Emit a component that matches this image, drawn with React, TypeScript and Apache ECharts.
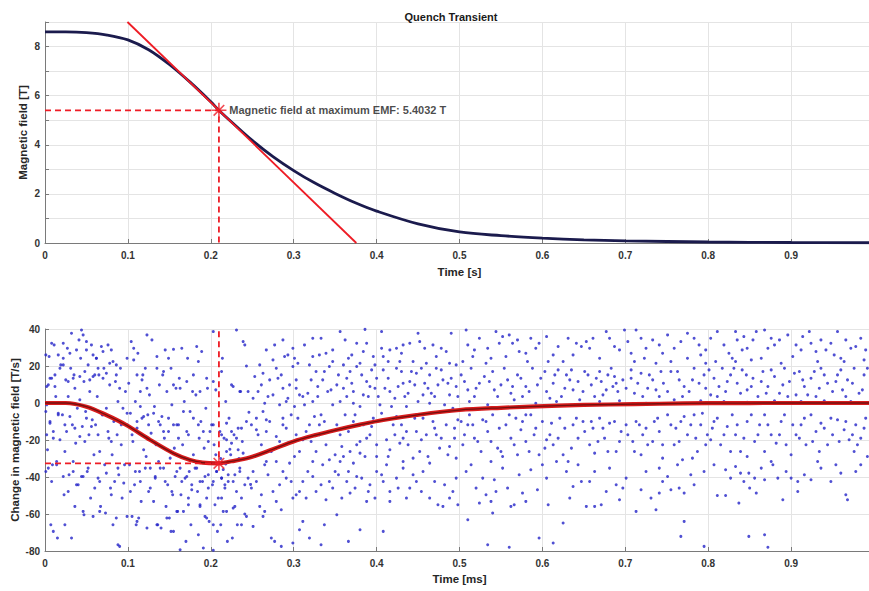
import React, { useEffect, useRef } from "react";
import * as echarts from "echarts";

// ---------- data ----------
const topTime = [0, 0.025, 0.05, 0.075, 0.1, 0.125, 0.15, 0.175, 0.2, 0.21, 0.225, 0.25, 0.275, 0.3, 0.325, 0.35, 0.375, 0.4, 0.45, 0.5, 0.55, 0.6, 0.65, 0.7, 0.8, 0.9, 1.0];
const topField = [8.6, 8.6, 8.57, 8.47, 8.27, 7.87, 7.27, 6.55, 5.75, 5.4, 4.93, 4.18, 3.52, 2.95, 2.45, 2.02, 1.63, 1.3, 0.78, 0.45, 0.3, 0.2, 0.13, 0.09, 0.04, 0.02, 0.01];

const rateTime = [0, 0.025, 0.05, 0.074, 0.098, 0.127, 0.155, 0.175, 0.19, 0.208, 0.225, 0.247, 0.275, 0.299, 0.325, 0.351, 0.38, 0.408, 0.448, 0.5, 0.55, 0.62, 0.68, 0.741, 0.8, 0.9, 1.0];
const rateValue = [0, 0, -2, -6.5, -11.9, -20, -27.2, -30.8, -32.2, -32.6, -31.5, -29.5, -25, -20.9, -17.5, -14.6, -11.7, -9.2, -6.5, -3.8, -2.6, -1.4, -0.8, -0.4, -0.1, 0, 0];

const tMaxEmf = 0.2098;
const fieldAtMaxEmf = 5.4032;
const maxEmf = -32.6;

const topYTicks = [0, 2, 4, 6, 8];
const bottomYRange = [-80, 40];

const noiseA = [
  [0.004,9.8],[0.012,8.9],[0.008,13.4],[0.002,-1],[0.016,-6.4],[0.006,-10.9],[0.01,-19],[0.018,-19.9],[0.003,-25.3],[0.014,-31.6],[0.009,-33.4],[0.001,-37],[0.007,-65.8],[0.015,-73],[0.011,31.4],[0.005,25.1],[0.019,20.6],[0.013,3.5],[0.002,-17.2],
  [0.022,24.2],[0.031,18.8],[0.025,12.5],[0.036,8],[0.028,3.5],[0.039,-2.8],[0.021,-6.4],[0.033,-11.8],[0.026,-15.4],[0.037,-21.7],[0.024,-26.2],[0.034,-31.6],[0.029,-38.8],[0.038,-44.2],[0.023,-49.6],[0.032,-73],[0.027,29.6],[0.035,15.2],
  [0.044,39.5],[0.046,36.8],[0.041,34.1],[0.05,33.2],[0.056,31.4],[0.043,24.2],[0.052,20.6],[0.058,14.3],[0.047,11.6],[0.054,6.2],[0.042,1.7],[0.049,-4.6],[0.057,-9.1],[0.045,-12.7],[0.053,-17.2],[0.048,-20.8],[0.059,-28],[0.051,-37],[0.044,-39.7],[0.055,-51.4],[0.047,-60.4],
  [0.068,30.5],[0.076,31.4],[0.08,28.7],[0.062,24.2],[0.071,18.8],[0.065,15.2],[0.078,9.8],[0.063,3.5],[0.074,-2.8],[0.069,-6.4],[0.061,-11.8],[0.077,-19],[0.066,-26.2],[0.072,-33.4],[0.064,-40.6],[0.079,-46],[0.067,-55.9],[0.073,-59.5],[0.07,27.8],
  [0.082,22.4],[0.091,18.8],[0.085,11.6],[0.097,6.2],[0.088,0.8],[0.094,-2.8],[0.083,-10],[0.099,-11.8],[0.087,-17.2],[0.092,-22.6],[0.081,-28],[0.096,-33.4],[0.089,-38.8],[0.084,-42.4],[0.093,-51.4],[0.086,-62.2],[0.09,-77.5],
  [0.104,33.2],[0.112,26.9],[0.107,23.3],[0.118,15.2],[0.101,10.7],[0.115,6.2],[0.109,0.8],[0.103,-5.5],[0.117,-8.2],[0.111,-13.6],[0.106,-20.8],[0.119,-25.3],[0.102,-33.4],[0.114,-37],[0.108,-44.2],[0.116,-53.2],[0.105,-61.3],[0.113,-62.2],[0.11,-65.8],
  [0.123,36.8],[0.129,34.1],[0.135,25.1],[0.121,18.8],[0.138,9.8],[0.126,4.4],[0.132,-1.9],[0.124,-6.4],[0.139,-11.8],[0.128,-16.3],[0.134,-22.6],[0.122,-28.9],[0.137,-31.6],[0.127,-35.2],[0.133,-40.6],[0.125,-47.8],[0.131,-53.2],[0.136,-65.8],[0.14,-67.6],
  [0.145,28.7],[0.155,29],[0.152,18.8],[0.142,15.2],[0.158,8],[0.147,6.2],[0.153,-1],[0.141,-7.3],[0.159,-11.8],[0.149,-15.4],[0.144,-19],[0.156,-24.4],[0.151,-29.8],[0.143,-35.2],[0.157,-39.7],[0.148,-44.2],[0.154,-49.6],[0.146,-55.9],[0.16,-58.6],[0.15,-62.2],[0.152,-69.4],
  [0.165,29.6],[0.172,24.2],[0.162,13.4],[0.178,6.2],[0.168,0.8],[0.175,-4.6],[0.161,-11.8],[0.171,-15.4],[0.166,-22.6],[0.179,-28],[0.163,-35.2],[0.174,-37],[0.169,-40.6],[0.177,-44.2],[0.164,-49.6],[0.173,-55],[0.167,-58.6],[0.176,-65.8],[0.17,-74.8],[0.163,-79.3],
  [0.183,30.5],[0.189,27.8],[0.185,22.4],[0.196,8],[0.182,4.4],[0.194,-2.8],[0.188,-10],[0.199,-15.4],[0.186,-19],[0.192,-24.4],[0.181,-35.2],[0.197,-38.8],[0.19,-42.4],[0.184,-47.8],[0.195,-51.4],[0.187,-55],[0.193,-61.3],[0.198,-64],[0.185,-71.2],[0.191,-78.4],
  [0.203,38.6],[0.214,24.2],[0.206,7.1],[0.218,0.8],[0.201,-11.8],[0.211,-15.4],[0.216,-19],[0.204,-22.6],[0.219,-26.2],[0.207,-37],[0.213,-40.6],[0.202,-44.2],[0.217,-46],[0.209,-51.4],[0.205,-55],[0.215,-58.6],[0.212,-65.8],[0.208,-69.4],[0.22,-74.8],[0.203,-79.6],[0.212,-30],[0.218,-33],[0.206,-28],[0.215,-36],
  [0.231,39.5],[0.239,33.2],[0.225,9.8],[0.236,6.2],[0.222,-8.2],[0.233,-13.6],[0.228,-17.2],[0.238,-20.8],[0.224,-28],[0.235,-35.2],[0.229,-38.8],[0.221,-42.4],[0.237,-51.4],[0.227,-56.8],[0.232,-65.8],[0.226,-73],[0.234,-30],[0.223,-25],
  [0.243,20],[0.246,-5],[0.248,-44],[0.241,-60],
];

const noiseA2 = [
  [0.002,8.9],[0.006,13.4],[0.012,15.2],[0.018,18.8],[0.022,20.6],[0.028,11.6],[0.034,13.4],[0.042,14.3],[0.048,17],[0.054,12.5],[0.06,15.2],[0.064,18.8],[0.07,13.4],[0.074,16.1],[0.078,21.5],[0.086,20.6],[0.09,8],[0.062,24.2],[0.058,26],[0.05,28.7],[0.038,28.7],[0.03,26.9],[0.022,32.3],[0.016,26],[0.001,26],[0.008,32.3],[0.032,37.7],[0.086,15.2],[0.099,24.2],[0.107,29.6],[0.111,15.2],[0.117,12.5],[0.123,8],[0.135,18.8],[0.143,17],[0.149,24.2],[0.155,9.8],[0.163,8],[0.171,11.6],[0.179,15.2],[0.187,6.2],[0.195,13.4],[0.203,11.6],[0.213,17],[0.227,8.9],[0.235,6.2],[0.241,31.4],[0.245,6.2],
  [0.001,-4.6],[0.006,-10],[0.01,-15.4],[0.016,-5.5],[0.024,-11.8],[0.03,-7.3],[0.036,-13.6],[0.042,-18.1],[0.05,-8.2],[0.056,-12.7],[0.064,-17.2],[0.07,-6.4],[0.076,-15.4],[0.08,-20.8],[0.084,-9.1],[0.092,-11.8],[0.099,-5.5],[0.105,-17.2],[0.111,-10],[0.115,-1.9],[0.119,-7.3],[0.125,-11.8],[0.131,-5.5],[0.137,-10],[0.143,-15.4],[0.149,-8.2],[0.155,-11.8],[0.161,-19],[0.167,-4.6],[0.173,-17.2],[0.179,-8.2],[0.185,-11.8],[0.191,-15.4],[0.197,-20.8],[0.203,-11.8],[0.213,-17.2],[0.219,-10.9],[0.225,-15.4],[0.231,-19],[0.237,-13.6],[0.243,-10],[0.219,-19.9],[0.225,-21.7],[0.233,-25.3],[0.239,-27.1],
  [0.004,-35.2],[0.008,-42.4],[0.014,-33.4],[0.022,-39.7],[0.028,-47.8],[0.034,-37],[0.04,-44.2],[0.046,-39.7],[0.052,-35.2],[0.06,-46],[0.066,-42.4],[0.074,-37.9],[0.08,-49.6],[0.088,-35.2],[0.095,-43.3],[0.103,-47.8],[0.109,-37],[0.115,-42.4],[0.121,-35.2],[0.127,-46],[0.133,-39.7],[0.139,-35.2],[0.145,-42.4],[0.153,-47.8],[0.159,-37],[0.165,-42.4],[0.171,-39.7],[0.177,-46.9],[0.183,-35.2],[0.187,-42.4],[0.193,-39.7],[0.197,-46],[0.203,-42.4],[0.207,-37],[0.213,-40.6],[0.217,-44.2],[0.221,-38.8],[0.227,-42.4],[0.231,-47.8],[0.235,-37],[0.241,-44.2],[0.245,-40.6],
  [0.173,-51.4],[0.187,-55.9],[0.195,-62.2],[0.203,-65.8],[0.213,-51.4],[0.219,-58.6],[0.229,-55.9],[0.237,-65.8],[0.243,-61.3],[0.159,-58.6],[0.155,-69.4],[0.147,-62.2],[0.135,-65.8],[0.123,-67.6],[0.111,-64],[0.099,-61.3],[0.088,-76.6],[0.082,-65.8],[0.066,-58.6],[0.058,-61.3],[0.046,-58.6],[0.036,-55.9],[0.024,-65.8],[0.01,-69.4],
];

const noiseB = [
  [0.277,31.4],[0.287,34.1],[0.299,29.6],[0.289,25.1],[0.323,35],[0.333,35],[0.356,38.6],[0.362,34.1],[0.376,32.3],[0.386,39.8],[0.388,32.3],[0.406,38.6],[0.416,28.7],[0.424,29.6],[0.44,32.3],[0.45,37.7],[0.452,33.2],[0.468,31.4],[0.478,29.6],[0.49,37.7],[0.323,25.1],[0.331,26],[0.339,26.9],[0.366,24.2],[0.396,25.1],[0.406,29.6],[0.43,26.9],
  [0.253,14.3],[0.257,6.2],[0.271,12.5],[0.279,18.8],[0.287,8],[0.295,9.8],[0.299,19.7],[0.307,4.4],[0.311,3.5],[0.317,5.3],[0.327,17],[0.335,12.5],[0.343,19.7],[0.352,9.8],[0.36,8],[0.368,17],[0.376,19.7],[0.384,4.4],[0.392,8.9],[0.4,13.4],[0.408,17.9],[0.416,6.2],[0.424,18.8],[0.432,10.7],[0.44,11.6],[0.448,16.1],[0.456,4.4],[0.464,15.2],[0.472,18.8],[0.48,12.5],[0.488,4.4],[0.496,8.9],
  [0.265,-0.1],[0.283,-1],[0.301,-1.9],[0.323,0.8],[0.347,-1],[0.372,-0.1],[0.404,-1],[0.436,-1.9],[0.464,-0.1],[0.492,-2.8],[0.275,23.3],[0.347,22.4],[0.38,21.5],[0.428,22.4],[0.46,21.5],[0.488,21.5],
  [0.261,9.8],[0.269,3.5],[0.281,13.4],[0.293,2.6],[0.303,12.5],[0.319,20.6],[0.329,8.9],[0.341,6.2],[0.354,15.2],[0.364,3.5],[0.37,10.7],[0.382,15.2],[0.39,3.5],[0.398,8],[0.414,13.4],[0.422,2.6],[0.43,17],[0.438,5.3],[0.446,9.8],[0.454,18.8],[0.462,8],[0.47,3.5],[0.478,17.9],[0.486,10.7],
  [0.249,-11.8],[0.257,-17.2],[0.263,-4.6],[0.271,-10],[0.283,-20.8],[0.291,-13.6],[0.297,-6.4],[0.307,-26.2],[0.315,-15.4],[0.325,-7.3],[0.331,-11.8],[0.339,-22.6],[0.35,-28],[0.356,-17.2],[0.362,-6.4],[0.368,-26.2],[0.376,-22.6],[0.384,-11.8],[0.392,-17.2],[0.4,-28.9],[0.406,-5.5],[0.412,-19.9],[0.42,-11.8],[0.428,-21.7],[0.436,-15.4],[0.444,-29.8],[0.452,-26.2],[0.46,-17.2],[0.468,-10],[0.476,-24.4],[0.484,-11.8],[0.494,-19],[0.253,-28.9],[0.279,-31.6],
  [0.255,-8.2],[0.267,-15.4],[0.287,-8.2],[0.303,-17.2],[0.321,-20.8],[0.333,-6.4],[0.346,-15.4],[0.358,-23.5],[0.372,-10],[0.38,-27.1],[0.388,-19],[0.396,-8.2],[0.416,-25.3],[0.424,-7.3],[0.432,-19],[0.448,-15.4],[0.456,-8.2],[0.472,-17.2],[0.488,-23.5],[0.498,-9.1],
  [0.251,-37],[0.255,-42.4],[0.265,-33.4],[0.275,-47.8],[0.283,-44.2],[0.291,-40.6],[0.299,-51.4],[0.311,-42.4],[0.317,-37],[0.327,-47.8],[0.335,-33.4],[0.347,-46],[0.354,-38.8],[0.364,-42.4],[0.368,-48.7],[0.376,-39.7],[0.388,-53.2],[0.392,-44.2],[0.4,-37],[0.408,-42.4],[0.416,-47.8],[0.424,-40.6],[0.432,-35.2],[0.44,-46],[0.448,-42.4],[0.456,-37],[0.464,-51.4],[0.474,-55],[0.48,-55.9],[0.488,-51.4],[0.496,-40.6],[0.259,-55.9],[0.285,-57.7],[0.303,-49.6],[0.343,-42.4],[0.356,-31.6],[0.412,-33.4],
  [0.251,-66.7],[0.263,-61.3],[0.273,-73],[0.277,-74.8],[0.285,-77.5],[0.299,-75.7],[0.307,-68.5],[0.319,-73],[0.333,-76.6],[0.337,-65.8],[0.352,-60.4],[0.366,-74.8],[0.38,-68.5],[0.408,-69.4],[0.311,-64],[0.265,-58.6],
];

const noiseB2 = [
  [0.259,20.6],[0.267,28.7],[0.293,26],[0.305,21.5],[0.313,31.4],[0.347,28.7],[0.37,26],[0.384,27.8],[0.398,20.6],[0.414,22.4],[0.432,31.4],[0.444,22.4],[0.458,29.6],[0.472,25.1],[0.484,27.8],[0.496,20.6],[0.301,24.2],[0.36,20.6],[0.408,25.1],
  [0.251,2.6],[0.263,16.1],[0.275,4.4],[0.285,15.2],[0.291,0.8],[0.303,8],[0.313,-1],[0.321,12.5],[0.329,3.5],[0.337,17],[0.345,7.1],[0.356,0.8],[0.364,13.4],[0.372,6.2],[0.38,-1.9],[0.388,11.6],[0.394,17.9],[0.402,3.5],[0.41,8],[0.418,-1.9],[0.426,8.9],[0.434,3.5],[0.442,17],[0.45,0.8],[0.458,10.7],[0.466,5.3],[0.474,9.8],[0.482,-1],[0.49,13.4],[0.498,3.5],
  [0.255,-14.5],[0.261,-22.6],[0.267,-9.1],[0.273,-26.2],[0.279,-18.1],[0.287,-11.8],[0.293,-21.7],[0.301,-28.9],[0.305,-8.2],[0.311,-19.9],[0.319,-11.8],[0.327,-26.2],[0.331,-17.2],[0.337,-10],[0.343,-30.7],[0.352,-11.8],[0.36,-28.9],[0.366,-15.4],[0.374,-6.4],[0.38,-20.8],[0.386,-28.9],[0.394,-12.7],[0.4,-22.6],[0.408,-9.1],[0.414,-28.9],[0.422,-17.2],[0.43,-11.8],[0.438,-22.6],[0.446,-8.2],[0.454,-19.9],[0.462,-28.9],[0.47,-13.6],[0.478,-19],[0.486,-28],[0.494,-13.6],[0.496,-29.8],[0.267,-31.6],[0.295,-32.5],[0.323,-31.6],[0.372,-32.5],[0.432,-31.6],[0.464,-32.5],
  [0.249,-46],[0.261,-49.6],[0.269,-38.8],[0.279,-53.2],[0.287,-37],[0.297,-42.4],[0.307,-47.8],[0.315,-51.4],[0.323,-39.7],[0.333,-44.2],[0.339,-52.3],[0.35,-37],[0.358,-51.4],[0.366,-37],[0.374,-46],[0.382,-40.6],[0.39,-47.8],[0.398,-51.4],[0.406,-38.8],[0.416,-53.2],[0.426,-46],[0.436,-51.4],[0.444,-38.8],[0.454,-47.8],[0.47,-42.4],[0.482,-44.2],[0.492,-47.8],[0.498,-55],
];

const noiseC = [
  [0.508,39.5],[0.518,28.7],[0.516,25.1],[0.504,22.4],[0.552,35.9],[0.56,36.8],[0.564,32.3],[0.548,32.3],[0.538,24.2],[0.532,21.5],[0.572,27.8],[0.58,26.9],[0.586,35],[0.596,32.3],[0.607,22.4],[0.619,30.5],[0.631,35],[0.641,32.3],[0.653,33.2],[0.657,29.6],[0.677,38.6],[0.681,35],[0.699,39.5],[0.713,39.5],[0.719,35],[0.693,28.7],[0.707,26.9],[0.723,24.2],[0.733,34.1],[0.741,31.4],[0.737,21.5],
  [0.502,15.2],[0.51,7.1],[0.518,3.5],[0.524,10.7],[0.53,14.3],[0.54,17],[0.542,7.1],[0.55,9.8],[0.558,12.5],[0.562,5.3],[0.57,15.2],[0.576,3.5],[0.58,8.9],[0.588,18.8],[0.598,13.4],[0.605,6.2],[0.613,10.7],[0.619,17.9],[0.623,3.5],[0.629,15.2],[0.637,7.1],[0.645,1.7],[0.651,17],[0.659,9.8],[0.665,13.4],[0.673,4.4],[0.679,15.2],[0.685,8.9],[0.691,6.2],[0.697,12.5],[0.707,17.9],[0.715,10.7],[0.721,3.5],[0.729,15.2],[0.737,7.1],[0.743,17],
  [0.512,0.8],[0.534,-1],[0.566,1.7],[0.592,-0.1],[0.617,0.8],[0.641,-1],[0.669,0.8],[0.693,1.2],[0.725,-0.1],[0.707,13.4],[0.687,14.3],[0.669,17],[0.633,12.5],
  [0.502,-10],[0.506,-17.2],[0.512,-6.4],[0.516,-11.8],[0.522,-20.8],[0.528,-9.1],[0.534,-15.4],[0.54,-6.4],[0.546,-24.4],[0.552,-28.9],[0.556,-11.8],[0.562,-19],[0.568,-8.2],[0.574,-14.5],[0.58,-20.8],[0.586,-6.4],[0.59,-17.2],[0.6,-10],[0.609,-17.2],[0.613,-22.6],[0.621,-8.2],[0.625,-28],[0.631,-31.6],[0.637,-11.8],[0.643,-19],[0.649,-10],[0.657,-22.6],[0.661,-13.6],[0.669,-8.2],[0.675,-19],[0.681,-10.9],[0.689,-26.2],[0.695,-15.4],[0.701,-11.8],[0.709,-20.8],[0.713,-10],[0.721,-17.2],[0.727,-22.6],[0.735,-10],[0.741,-15.4],[0.745,-29.8],[0.55,-26.2],[0.605,-19.9],[0.58,-6.4],[0.538,-31.6],[0.57,-28],[0.596,-28],[0.663,-27.1],[0.719,-28],[0.741,-35.2],
  [0.508,-37],[0.52,-46],[0.524,-54.1],[0.538,-53.2],[0.542,-41.5],[0.544,-47.8],[0.558,-46],[0.562,-55.9],[0.566,-55],[0.576,-48.7],[0.586,-36.1],[0.594,-46.9],[0.605,-40.6],[0.607,-55],[0.617,-31.6],[0.625,-64.9],[0.637,-45.1],[0.647,-42.4],[0.653,-55.9],[0.663,-55.9],[0.663,-37],[0.671,-55],[0.677,-47.8],[0.689,-44.2],[0.697,-46],[0.713,-58.6],[0.719,-46.9],[0.731,-51.4],[0.741,-48.7],[0.51,-63.1],[0.54,-59.5],[0.534,-76.6],[0.56,-78],[0.596,-73],[0.613,-75.7],
];

const noiseC2 = [
  [0.524,35],[0.534,29.6],[0.544,38.6],[0.556,25.1],[0.57,34.1],[0.582,22.4],[0.592,29.6],[0.605,35.9],[0.613,26],[0.625,22.4],[0.637,26],[0.647,30.5],[0.661,35],[0.669,24.2],[0.687,30.5],[0.703,33.2],[0.711,22.4],[0.725,29.6],[0.745,26.9],[0.51,31.4],
  [0.506,11.6],[0.514,18.8],[0.52,8],[0.536,11.6],[0.546,3.5],[0.554,18.8],[0.564,8.9],[0.574,13.4],[0.584,6.2],[0.594,9.8],[0.603,17],[0.609,2.6],[0.615,15.2],[0.627,8],[0.635,17.9],[0.643,11.6],[0.649,6.2],[0.655,15.2],[0.663,3.5],[0.671,11.6],[0.677,7.1],[0.683,18.8],[0.689,10.7],[0.701,8],[0.711,5.3],[0.719,16.1],[0.727,8],[0.733,12.5],[0.741,3.5],[0.746,10.7],
  [0.504,-22.6],[0.51,-11.8],[0.518,-19],[0.526,-26.2],[0.532,-10],[0.538,-20.8],[0.548,-13.6],[0.56,-6.4],[0.566,-22.6],[0.576,-10],[0.584,-26.2],[0.592,-13.6],[0.603,-24.4],[0.611,-10.9],[0.619,-19],[0.627,-13.6],[0.635,-24.4],[0.641,-8.2],[0.651,-15.4],[0.659,-10],[0.667,-20.8],[0.673,-13.6],[0.679,-26.2],[0.687,-10],[0.693,-20.8],[0.703,-17.2],[0.711,-26.2],[0.717,-11.8],[0.725,-13.6],[0.733,-20.8],[0.739,-8.2],[0.745,-22.6],
  [0.514,-33.4],[0.528,-40.6],[0.552,-35.2],[0.572,-38.8],[0.6,-33.4],[0.629,-37],[0.643,-33.4],[0.657,-42.4],[0.681,-35.2],[0.701,-40.6],[0.725,-37],[0.745,-42.4],[0.532,-49.6],[0.58,-53.2],[0.633,-51.4],[0.693,-52.3],[0.737,-57.7],
];

const noiseD = [
  [0.751,36.8],[0.759,29.6],[0.783,35],[0.789,31.4],[0.791,26],[0.811,38.6],[0.809,22.4],[0.825,26.9],[0.833,38.6],[0.835,34.1],[0.843,35.9],[0.847,29.6],[0.854,34.1],[0.858,38.6],[0.868,39.5],[0.864,24.2],[0.876,35],[0.88,31.4],[0.896,36.8],[0.906,31.4],[0.912,28.7],[0.922,38.6],[0.924,32.3],[0.932,22.4],[0.942,28.7],[0.948,32.3],[0.956,38.6],[0.966,34.1],[0.972,29.6],[0.978,30.5],[0.988,23.3],[0.888,21.5],[0.833,22.4],[0.775,24.2],[0.797,21.5],[0.96,24.2],
  [0.755,17],[0.765,12.5],[0.771,8.9],[0.777,6.2],[0.783,18.8],[0.789,10.7],[0.795,15.2],[0.803,4.4],[0.807,13.4],[0.813,8.9],[0.817,18.8],[0.821,6.2],[0.827,15.2],[0.835,10.7],[0.841,17.9],[0.847,7.1],[0.854,13.4],[0.86,3.5],[0.866,17],[0.872,8.9],[0.88,14.3],[0.886,5.3],[0.892,18.8],[0.898,11.6],[0.906,4.4],[0.91,17],[0.916,8.9],[0.924,13.4],[0.93,3.5],[0.936,18.8],[0.944,10.7],[0.95,6.2],[0.956,15.2],[0.962,7.1],[0.968,12.5],[0.976,18.8],[0.982,5.3],[0.988,15.2],
  [0.759,1.7],[0.791,1.2],[0.819,0.8],[0.847,0.4],[0.88,1.2],[0.912,0.8],[0.94,1.2],[0.972,0.8],
  [0.751,-6.4],[0.761,-13.6],[0.765,-20.8],[0.771,-7.3],[0.779,-11.8],[0.785,-19],[0.787,-26.2],[0.793,-5.5],[0.799,-17.2],[0.807,-10],[0.815,-22.6],[0.823,-12.7],[0.829,-6.4],[0.833,-17.2],[0.839,-26.2],[0.847,-10],[0.856,-20.8],[0.862,-11.8],[0.868,-6.4],[0.876,-17.2],[0.882,-21.7],[0.888,-10],[0.892,-6.4],[0.9,-28],[0.906,-17.2],[0.912,-11.8],[0.918,-22.6],[0.924,-6.4],[0.93,-15.4],[0.936,-10.9],[0.944,-22.6],[0.95,-17.2],[0.956,-9.1],[0.964,-14.5],[0.97,-19.9],[0.978,-11.8],[0.984,-19],[0.99,-8.2],
  [0.769,-30.7],[0.781,-29.8],[0.803,-19.9],[0.847,-28.9],[0.876,-31.6],[0.932,-31.6],[0.954,-33.4],[0.976,-26.2],
  [0.751,-39.7],[0.755,-46.9],[0.765,-46],[0.771,-48.7],[0.821,-36.1],[0.833,-34.3],[0.843,-42.4],[0.849,-37.9],[0.856,-40.6],[0.858,-48.7],[0.868,-41.5],[0.878,-33.4],[0.884,-40.6],[0.89,-52.3],[0.9,-40.6],[0.908,-42.4],[0.924,-41.5],[0.966,-49.6],[0.968,-52.3],[0.978,-37],[0.811,-50],[0.821,-50],[0.837,-54.1],
  [0.771,-64],[0.767,-72.1],[0.795,-77.5],[0.849,-72.1],[0.868,-71.2],[0.872,-78],
];

const noiseD2 = [
  [0.755,22.4],[0.767,33.2],[0.775,37.7],[0.797,28.7],[0.803,35],[0.819,31.4],[0.829,24.2],[0.841,28.7],[0.852,23.3],[0.872,29.6],[0.886,34.1],[0.902,25.1],[0.914,35.9],[0.93,27.8],[0.936,34.1],[0.952,26],[0.964,22.4],[0.984,35],[0.99,28.7],
  [0.751,6.2],[0.763,17],[0.769,3.5],[0.781,12.5],[0.797,8],[0.801,17.9],[0.811,3.5],[0.823,11.6],[0.831,18.8],[0.839,5.3],[0.846,15.2],[0.852,8.9],[0.864,11.6],[0.87,5.3],[0.876,17.9],[0.89,9.8],[0.896,3.5],[0.904,16.1],[0.914,12.5],[0.92,4.4],[0.928,17],[0.934,8],[0.94,15.2],[0.954,11.6],[0.96,17.9],[0.966,3.5],[0.974,10.7],[0.986,7.1],[0.992,18.8],
  [0.755,-11.8],[0.759,-22.6],[0.767,-10],[0.775,-17.2],[0.783,-6.4],[0.791,-11.8],[0.797,-22.6],[0.805,-13.6],[0.811,-8.2],[0.819,-17.2],[0.827,-26.2],[0.835,-11.8],[0.843,-19],[0.852,-6.4],[0.86,-17.2],[0.868,-26.2],[0.872,-11.8],[0.886,-17.2],[0.894,-22.6],[0.902,-11.8],[0.91,-19],[0.916,-8.2],[0.926,-20.8],[0.934,-26.2],[0.94,-13.6],[0.948,-8.2],[0.958,-20.8],[0.966,-10],[0.974,-17.2],[0.98,-22.6],[0.988,-13.6],[0.992,-28.9],
  [0.763,-33.4],[0.779,-38.8],[0.795,-37],[0.807,-33.4],[0.827,-40.6],[0.839,-37.9],[0.864,-35.2],[0.894,-37],[0.916,-38.8],[0.936,-35.2],[0.96,-37.9],[0.984,-33.4],[0.783,-44.2],[0.85,-46],[0.908,-47.8],[0.948,-42.4],
];

// ---------- styling ----------
const FONT = "'Liberation Sans', Arial, Helvetica, sans-serif";
const RED = "#ee1c25";
const AXIS_GRAY = "#7a7a7a";
const GRID_GRAY = "#e4e4e4";
const LABEL_COLOR = "#333333";
const ASTERISK = "path://M0,-10L0,10M-10,0L10,0M-7.07,-7.07L7.07,7.07M-7.07,7.07L7.07,-7.07";

function pairs(xs: number[], ys: number[]) {
  return xs.map((x, i) => [x, ys[i]]);
}

function xAxisFor(gridIndex: number, name: string, nameGap: number) {
  return {
    type: "value",
    gridIndex,
    min: 0,
    max: 1,
    interval: 0.1,
    name,
    nameLocation: "middle",
    nameGap,
    nameMoveOverlap: false,
    nameTextStyle: { fontWeight: "bold", fontSize: 11.5, color: "#262626", fontFamily: FONT },
    axisLine: { onZero: false, lineStyle: { color: AXIS_GRAY, width: 1 } },
    axisTick: { inside: true, length: 4, lineStyle: { color: AXIS_GRAY } },
    axisLabel: { showMaxLabel: false, fontSize: 10, fontWeight: "bold", color: LABEL_COLOR, margin: 7, fontFamily: FONT },
    splitLine: { show: true, lineStyle: { color: GRID_GRAY, width: 1 } },
  };
}

function yAxisFor(gridIndex: number, name: string, min: number, max: number, interval: number, nameGap: number, labelFilter?: (v: number) => boolean) {
  return {
    type: "value",
    gridIndex,
    min,
    max,
    interval,
    name,
    nameLocation: "middle",
    nameGap,
    nameMoveOverlap: false,
    nameTextStyle: { fontWeight: "bold", fontSize: 11.5, color: "#262626", fontFamily: FONT },
    axisLine: { show: true, onZero: false, lineStyle: { color: AXIS_GRAY, width: 1 } },
    axisTick: { show: true, inside: true, length: 4, lineStyle: { color: AXIS_GRAY } },
    axisLabel: {
      fontSize: 10,
      fontWeight: "bold",
      color: LABEL_COLOR,
      margin: 5,
      fontFamily: FONT,
      formatter: (v: number) => (labelFilter && !labelFilter(v) ? "" : String(v)),
    },
    splitLine: { show: true, lineStyle: { color: GRID_GRAY, width: 1 } },
  };
}

export default function App() {
  const ref = useRef<HTMLDivElement>(null);

  useEffect(() => {
    if (!ref.current) return;
    const chart = echarts.init(ref.current, undefined, { renderer: "svg" });

    const topMax = 9;
    // tangent line at max EMF, spanning from the top of the axes down to zero field
    const tStart = tMaxEmf + (topMax - fieldAtMaxEmf) / maxEmf;
    const tEnd = tMaxEmf + (0 - fieldAtMaxEmf) / maxEmf;

    const scatterData = [...noiseA, ...noiseA2, ...noiseB, ...noiseB2, ...noiseC, ...noiseC2, ...noiseD, ...noiseD2];
    const rateCurve = pairs(rateTime, rateValue);

    chart.setOption({
      animation: false,
      backgroundColor: "#ffffff",
      title: {
        text: "Quench Transient",
        left: 446,
        top: 6,
        textAlign: "center",
        textStyle: { fontSize: 11, fontWeight: "bold", color: "#1a1a1a", fontFamily: FONT },
      },
      grid: [
        { left: 45, right: -5, top: 22, height: 221, outerBoundsMode: "none" },
        { left: 45, right: -5, top: 329, height: 222, outerBoundsMode: "none" },
      ],
      xAxis: [xAxisFor(0, "Time [s]", 23), xAxisFor(1, "Time [ms]", 22)],
      yAxis: [
        yAxisFor(0, "Magnetic field [T]", 0, topMax, 1, 16, (v) => topYTicks.includes(v)),
        yAxisFor(1, "Change in magnetic field [T/s]", bottomYRange[0], bottomYRange[1], 20, 24),
      ],
      series: [
        // ----- top panel -----
        {
          type: "line",
          xAxisIndex: 0,
          yAxisIndex: 0,
          data: pairs(topTime, topField),
          smooth: 0.35,
          symbol: "none",
          lineStyle: { color: "#1b1b4d", width: 2.8 },
          z: 3,
        },
        {
          type: "line",
          xAxisIndex: 0,
          yAxisIndex: 0,
          data: [[tStart, topMax], [tEnd, 0]],
          symbol: "none",
          lineStyle: { color: RED, width: 1.8 },
          z: 4,
        },
        {
          type: "line",
          xAxisIndex: 0,
          yAxisIndex: 0,
          data: [[0, fieldAtMaxEmf], [tMaxEmf, fieldAtMaxEmf], [tMaxEmf, 0]],
          symbol: "none",
          lineStyle: { color: RED, width: 1.8, type: [6, 4] },
          z: 4,
        },
        {
          type: "scatter",
          xAxisIndex: 0,
          yAxisIndex: 0,
          data: [[tMaxEmf, fieldAtMaxEmf]],
          symbol: ASTERISK,
          symbolSize: 15,
          itemStyle: { color: RED, borderColor: RED, borderWidth: 1.6 },
          label: {
            show: true,
            position: "right",
            distance: 2,
            formatter: () => `Magnetic field at maximum EMF: ${fieldAtMaxEmf.toFixed(4)} T`,
            fontSize: 11,
            fontWeight: "bold",
            color: "#1a1a1a",
            fontFamily: FONT,
          },
          z: 6,
        },
        // ----- bottom panel -----
        {
          type: "scatter",
          xAxisIndex: 1,
          yAxisIndex: 1,
          data: scatterData,
          symbol: "circle",
          symbolSize: 3,
          itemStyle: { color: "#2424c8" },
          z: 2,
        },
        {
          type: "line",
          xAxisIndex: 1,
          yAxisIndex: 1,
          data: rateCurve,
          smooth: 0.35,
          symbol: "none",
          lineStyle: { color: "#d81c1c", width: 4.2 },
          z: 3,
        },
        {
          type: "line",
          xAxisIndex: 1,
          yAxisIndex: 1,
          data: rateCurve,
          smooth: 0.35,
          symbol: "none",
          lineStyle: { color: "#5a0c0c", width: 1.3, opacity: 0.8 },
          z: 4,
        },
        {
          type: "line",
          xAxisIndex: 1,
          yAxisIndex: 1,
          data: [[0, maxEmf], [tMaxEmf, maxEmf], [tMaxEmf, bottomYRange[1]]],
          symbol: "none",
          lineStyle: { color: RED, width: 1.8, type: [6, 4] },
          z: 5,
        },
        {
          type: "scatter",
          xAxisIndex: 1,
          yAxisIndex: 1,
          data: [[tMaxEmf, maxEmf]],
          symbol: ASTERISK,
          symbolSize: 15,
          itemStyle: { color: RED, borderColor: RED, borderWidth: 1.6 },
          z: 6,
        },
      ],
    });

    return () => chart.dispose();
  }, []);

  return (
    <div
      ref={ref}
      style={{ position: "fixed", left: 0, top: 0, width: 869, height: 591, background: "#fff" }}
    />
  );
}
